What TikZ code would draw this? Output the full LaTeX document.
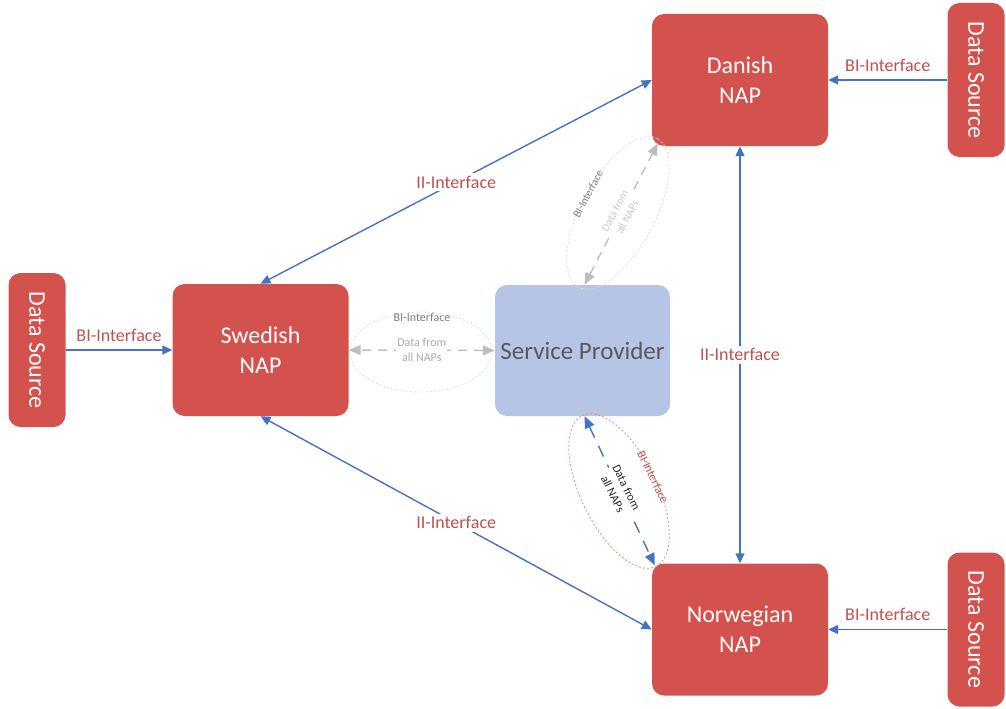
\documentclass[tikz,border=0pt]{standalone}
\usepackage{fontspec}
\setmainfont{Carlito}
\usetikzlibrary{arrows.meta,shapes.geometric}
\definecolor{napred}{RGB}{212,82,78}
\definecolor{labred}{RGB}{192,80,77}
\definecolor{linkblue}{RGB}{68,114,196}
\definecolor{spblue}{RGB}{182,197,230}
\definecolor{sptext}{RGB}{89,89,89}
\definecolor{faint}{RGB}{190,190,190}
\definecolor{ovalgray}{RGB}{220,220,220}
\definecolor{ovalred}{RGB}{222,140,138}
\definecolor{txpale}{RGB}{200,200,200}
\definecolor{txmid}{RGB}{170,170,170}
\definecolor{txgray}{RGB}{125,125,125}
\definecolor{txdark}{RGB}{40,40,40}
\begin{document}
\begin{tikzpicture}[x=1pt,y=-1pt,
  nap/.style={fill=napred, rounded corners=12pt, minimum width=176pt, minimum height=132pt,
    text=white, font=\fontsize{24}{30}\selectfont, align=center, inner sep=0pt},
  src/.style={fill=napred, rounded corners=12pt, minimum width=57pt, minimum height=154pt,
    text=white, font=\fontsize{24}{29}\selectfont, inner sep=0pt},
  spbox/.style={fill=spblue, rounded corners=12pt, minimum width=175pt, minimum height=131pt,
    text=sptext, font=\fontsize{25}{29}\selectfont, inner sep=0pt},
  link/.style={draw=linkblue, line width=1.4pt},
  onehead/.style={arrows={-Triangle[length=10pt,width=9pt]}},
  twohead/.style={arrows={Triangle[length=10pt,width=9pt]-Triangle[length=10pt,width=9pt]}},
  lbl/.style={text=labred, font=\fontsize{18}{20}\selectfont, inner sep=2pt},
  iilbl/.style={lbl, fill=white, inner sep=3pt},
  softlink/.style={draw=faint, line width=1.4pt, dash pattern=on 9pt off 7pt,
    arrows={Triangle[length=12pt,width=10pt]-Triangle[length=12pt,width=10pt]}},
  bluedash/.style={draw=linkblue, line width=1.4pt, dash pattern=on 12pt off 9pt,
    arrows={Triangle[length=12pt,width=10pt]-Triangle[length=12pt,width=10pt]}},
  oval/.style={ellipse, draw=#1, line width=0.8pt, dash pattern=on 2pt off 2pt},
  small/.style={font=\fontsize{12}{15}\selectfont, align=center, inner sep=1pt}
]
\useasboundingbox (0,0) rectangle (1006,709);

% national access points and data sources
\node[nap] (dk) at (740,80) {Danish\\NAP};
\node[nap] (se) at (260.5,350) {Swedish\\NAP};
\node[nap] (no) at (740,629.5) {Norwegian\\NAP};
\node[spbox] (sp) at (582.5,350.5) {Service Provider};
\node[src] (dsT) at (976,80) {\rotatebox{-90}{Data Source}};
\node[src] (dsL) at (37,350) {\rotatebox{-90}{Data Source}};
\node[src] (dsB) at (976,629.5) {\rotatebox{-90}{Data Source}};

% data source feeds
\draw[link,onehead] (dsT) -- (dk) node[lbl, midway, above=6pt] {BI-Interface};
\draw[link,onehead] (dsL) -- (se) node[lbl, midway, above=6pt] {BI-Interface};
\draw[link,onehead] (dsB) -- (no) node[lbl, midway, above=6pt] {BI-Interface};

% NAP to NAP links
\draw[link,twohead] (se.north) -- (dk.west) node[iilbl, midway] {II-Interface};
\draw[link,twohead] (se.south) -- (no.west) node[iilbl, midway] {II-Interface};
\draw[link,twohead] (dk.south) -- (no.north) node[iilbl, midway] {II-Interface};

% service provider links
\node[oval=ovalgray, minimum width=168pt, minimum height=74pt, rotate=62] (ovT) at (618,213) {};
\node[oval=ovalgray, minimum width=142pt, minimum height=80pt] (ovM) at (421,352) {};
\node[oval=ovalred, minimum width=168pt, minimum height=76pt, rotate=-64] (ovB) at (619,491) {};

\draw[softlink] ([xshift=2pt]sp.north) -- ([xshift=6pt,yshift=3pt]dk.south west)
  node[small, midway, fill=white, text=txpale, rotate=62, font=\fontsize{11}{14}\selectfont] {Data from\\all NAPs};
\node[small, rotate=62, text=txgray, font=\fontsize{11}{13}\selectfont] (tBI) at (588,194) {BI-Interface};

\draw[softlink] (sp.west) -- (se.east)
  node[small, midway, fill=white, text=txmid] {Data from\\all NAPs};
\node[small, text=txgray] (mBI) at (422,317) {BI-Interface};

\draw[bluedash] ([xshift=2pt]sp.south) -- ([xshift=3pt,yshift=-2pt]no.north west)
  node[small, midway, fill=white, text=txdark, rotate=-64] {Data from\\all NAPs};
\node[small, rotate=-64, text=labred] (bBI) at (653,477) {BI-Interface};
\end{tikzpicture}
\end{document}
